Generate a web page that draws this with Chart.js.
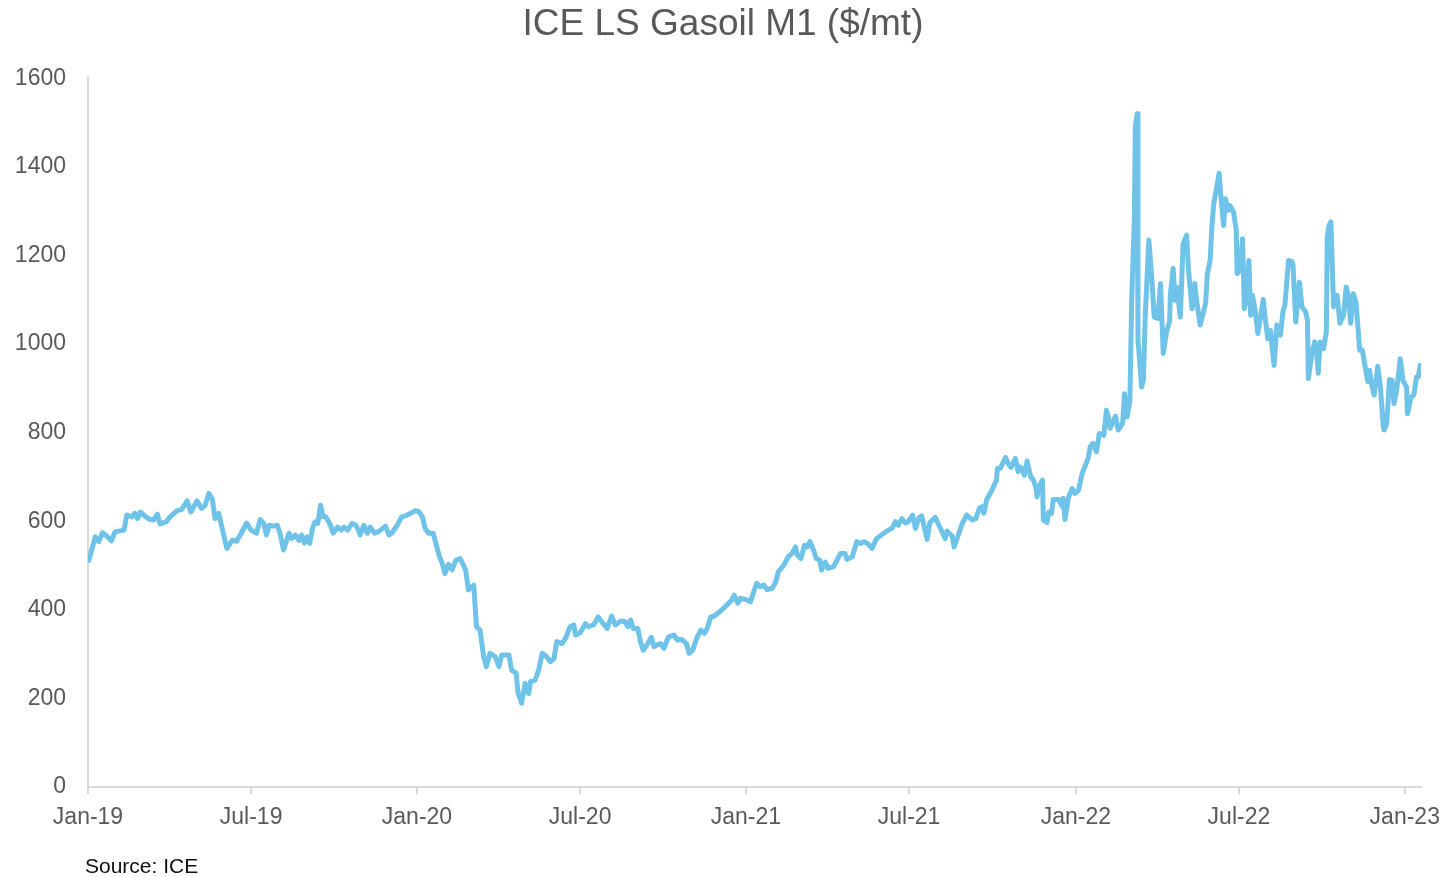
<!DOCTYPE html>
<html>
<head>
<meta charset="utf-8">
<title>ICE LS Gasoil M1</title>
<script src="https://cdn.jsdelivr.net/npm/chart.js@4/dist/chart.umd.min.js"></script>
<style>
  html, body { margin: 0; padding: 0; background: #fff; }
  #wrap { position: relative; width: 1446px; height: 877px; }
  #source {
    position: absolute; left: 85px; top: 854px;
    font-family: "Liberation Sans", Arial, sans-serif;
    font-size: 21px; color: #111;
  }
</style>
</head>
<body>
<div id="wrap">
  <canvas id="gasoil" width="1446" height="877"></canvas>
  <div id="source">Source: ICE</div>
</div>

<script>
// ====================================================
// DATA (day = days since 1 Jan 2019)
// ====================================================
const tickDays   = [0, 181, 365, 546, 730, 911, 1096, 1277, 1461];
const tickLabels = ["Jan-19", "Jul-19", "Jan-20", "Jul-20", "Jan-21", "Jul-21", "Jan-22", "Jul-22", "Jan-23"];

const days = [
  0, 1, 8, 12, 16, 21, 26, 30, 40, 43, 49, 52, 55, 58, 64, 69, 73, 77, 80, 87,
  91, 99, 104, 110, 114, 121, 126, 130, 134, 138, 141, 145, 154, 160, 165, 170, 176, 181, 187, 191,
  195, 198, 201, 206, 210, 213, 217, 223, 226, 230, 234, 237, 240, 243, 246, 249, 252, 255, 258, 261,
  264, 269, 272, 277, 281, 284, 288, 293, 297, 300, 302, 306, 310, 313, 318, 322, 327, 330, 334, 337,
  343, 348, 354, 359, 363, 367, 371, 374, 378, 383, 387, 390, 393, 396, 400, 404, 408, 413, 419, 422,
  428, 431, 435, 439, 442, 446, 452, 456, 459, 467, 470, 475, 477, 481, 485, 489, 491, 496, 500, 504,
  509, 513, 517, 520, 526, 530, 535, 539, 541, 546, 552, 555, 561, 566, 570, 576, 581, 585, 591, 596,
  599, 602, 605, 610, 613, 616, 620, 625, 628, 635, 639, 644, 650, 654, 659, 664, 667, 671, 676, 680,
  684, 687, 691, 695, 701, 709, 714, 717, 721, 724, 729, 735, 738, 742, 746, 750, 753, 759, 763, 766,
  772, 777, 781, 785, 787, 791, 795, 798, 801, 805, 808, 812, 814, 818, 821, 827, 833, 835, 840, 842,
  848, 853, 857, 861, 865, 870, 875, 883, 888, 892, 896, 899, 903, 907, 910, 915, 918, 922, 925, 931,
  934, 940, 945, 951, 953, 959, 961, 965, 970, 975, 981, 985, 989, 992, 994, 997, 1003, 1008, 1009, 1012,
  1018, 1021, 1024, 1029, 1032, 1035, 1039, 1042, 1046, 1049, 1052, 1053, 1055, 1059, 1060, 1064, 1066, 1069, 1071, 1077,
  1081, 1082, 1084, 1088, 1092, 1095, 1099, 1103, 1107, 1110, 1112, 1115, 1119, 1122, 1127, 1130, 1132, 1134, 1140, 1143,
  1148, 1150, 1153, 1156, 1158, 1161, 1162, 1164, 1165, 1169, 1171, 1173, 1177, 1180, 1183, 1187, 1190, 1193, 1197, 1200,
  1201, 1204, 1206, 1208, 1212, 1215, 1219, 1221, 1225, 1228, 1230, 1234, 1240, 1242, 1245, 1247, 1249, 1252, 1255, 1257,
  1260, 1262, 1265, 1267, 1271, 1274, 1275, 1278, 1281, 1283, 1286, 1288, 1290, 1292, 1295, 1298, 1301, 1304, 1306, 1309,
  1312, 1316, 1319, 1323, 1326, 1328, 1332, 1336, 1337, 1340, 1344, 1347, 1351, 1353, 1354, 1358, 1361, 1363, 1365, 1367,
  1371, 1374, 1375, 1377, 1379, 1382, 1385, 1386, 1389, 1393, 1396, 1398, 1401, 1404, 1407, 1411, 1414, 1417, 1420, 1422,
  1424, 1427, 1431, 1434, 1437, 1438, 1441, 1444, 1447, 1449, 1452, 1456, 1459, 1463, 1464, 1468, 1471, 1474, 1476, 1478
];

const prices = [
  514, 512, 565, 554, 574, 566, 556, 576, 580, 614, 610, 618, 606, 621, 610, 604, 603, 616, 594, 599,
  610, 624, 627, 646, 621, 646, 629, 636, 663, 649, 606, 618, 539, 557, 555, 573, 596, 580, 573, 604,
  595, 569, 591, 589, 591, 573, 535, 573, 561, 569, 557, 569, 551, 565, 550, 584, 599, 595, 636, 610,
  610, 591, 573, 587, 580, 587, 580, 595, 591, 580, 569, 591, 573, 587, 573, 576, 584, 589, 569, 573,
  591, 610, 614, 619, 624, 622, 610, 584, 573, 573, 542, 520, 505, 482, 503, 490, 512, 516, 490, 445,
  456, 362, 354, 294, 272, 302, 294, 272, 298, 298, 264, 257, 215, 189, 234, 211, 238, 241, 264, 302,
  294, 283, 290, 328, 324, 336, 362, 366, 343, 348, 369, 362, 366, 384, 373, 358, 386, 366, 375, 373,
  362, 377, 358, 358, 328, 309, 320, 338, 317, 324, 313, 339, 343, 332, 333, 324, 302, 309, 339, 354,
  347, 358, 384, 386, 396, 411, 422, 433, 415, 426, 424, 418, 437, 460, 452, 456, 446, 448, 463, 486,
  501, 520, 527, 542, 524, 516, 546, 542, 554, 535, 516, 512, 490, 508, 494, 497, 520, 527, 527, 514,
  520, 554, 550, 554, 550, 539, 561, 573, 580, 584, 599, 591, 606, 596, 599, 614, 584, 608, 612, 559,
  597, 609, 587, 561, 578, 566, 542, 565, 595, 614, 603, 606, 629, 633, 618, 648, 670, 693, 719, 719,
  744, 730, 722, 742, 712, 722, 704, 736, 700, 693, 674, 655, 678, 693, 603, 597, 621, 618, 649, 649,
  633, 652, 604, 655, 674, 663, 670, 708, 728, 745, 768, 776, 757, 798, 794, 851, 836, 810, 837, 806,
  821, 888, 836, 873, 1099, 1287, 1490, 1520, 1010, 903, 918, 1061, 1235, 1159, 1061, 1058, 1137, 979, 1031, 1050,
  1114, 1171, 1099, 1129, 1061, 1226, 1246, 1167, 1080, 1137, 1099, 1043, 1092, 1159, 1189, 1265, 1317, 1351, 1386, 1332,
  1268, 1328, 1302, 1313, 1298, 1257, 1159, 1167, 1238, 1080, 1107, 1189, 1065, 1110, 1076, 1024, 1061, 1101, 1061, 1012,
  1031, 952, 1043, 1020, 1076, 1088, 1189, 1186, 1178, 1050, 1140, 1084, 1073, 1054, 922, 979, 1005, 990, 934, 1005,
  990, 1028, 1242, 1268, 1276, 1084, 1107, 1110, 1047, 1065, 1129, 1114, 1047, 1114, 1092, 986, 986, 949, 915, 941,
  911, 885, 950, 903, 817, 806, 821, 920, 918, 866, 896, 967, 918, 903, 843, 881, 885, 926, 926, 952
];

const yMin = 0;
const yMax = 1600;
const yStep = 200;

// ====================================================
// CHART
// ====================================================
const FONT = "'Liberation Sans', Arial, sans-serif";
const GREY_TEXT = "#595959";
const AXIS_GREY = "#d9d9d9";

const points = days.map((d, i) => ({ x: d, y: prices[i] }));

new Chart(document.getElementById("gasoil"), {
  type: "line",
  data: {
    datasets: [{
      label: "ICE LS Gasoil M1",
      data: points,
      borderColor: "#6fc3e8",
      borderWidth: 5,
      borderJoinStyle: "round",
      borderCapStyle: "round",
      pointRadius: 0,
      tension: 0,
      fill: false
    }]
  },
  options: {
    responsive: false,
    animation: false,
    devicePixelRatio: 1,
    layout: { padding: 0 },
    plugins: {
      legend: { display: false },
      tooltip: { enabled: false },
      title: {
        display: true,
        text: "ICE LS Gasoil M1 ($/mt)",
        color: GREY_TEXT,
        font: { family: FONT, size: 37, weight: "normal" },
        padding: { top: 3, bottom: 31 }
      }
    },
    scales: {
      x: {
        type: "linear",
        min: 0,
        max: 1479,
        afterBuildTicks: scale => {
          scale.ticks = tickDays.map(v => ({ value: v }));
        },
        afterFit: scale => {
          scale.height = 90;
          scale.paddingLeft = 0;
          scale.paddingRight = 25;
        },
        grid: {
          display: true,
          drawOnChartArea: false,
          drawTicks: true,
          tickLength: 7,
          color: AXIS_GREY,
          lineWidth: 2
        },
        border: { display: true, color: AXIS_GREY, width: 2 },
        ticks: {
          autoSkip: false,
          maxRotation: 0,
          padding: 10,
          color: GREY_TEXT,
          font: { family: FONT, size: 23 },
          callback: (value, index) => tickLabels[index]
        }
      },
      y: {
        min: yMin,
        max: yMax,
        afterFit: scale => { scale.width = 88; },
        grid: { display: false, drawTicks: false },
        border: { display: true, color: AXIS_GREY, width: 2 },
        ticks: {
          stepSize: yStep,
          padding: 22,
          color: GREY_TEXT,
          font: { family: FONT, size: 23 },
          callback: value => String(value)
        }
      }
    }
  }
});
</script>
</body>
</html>
